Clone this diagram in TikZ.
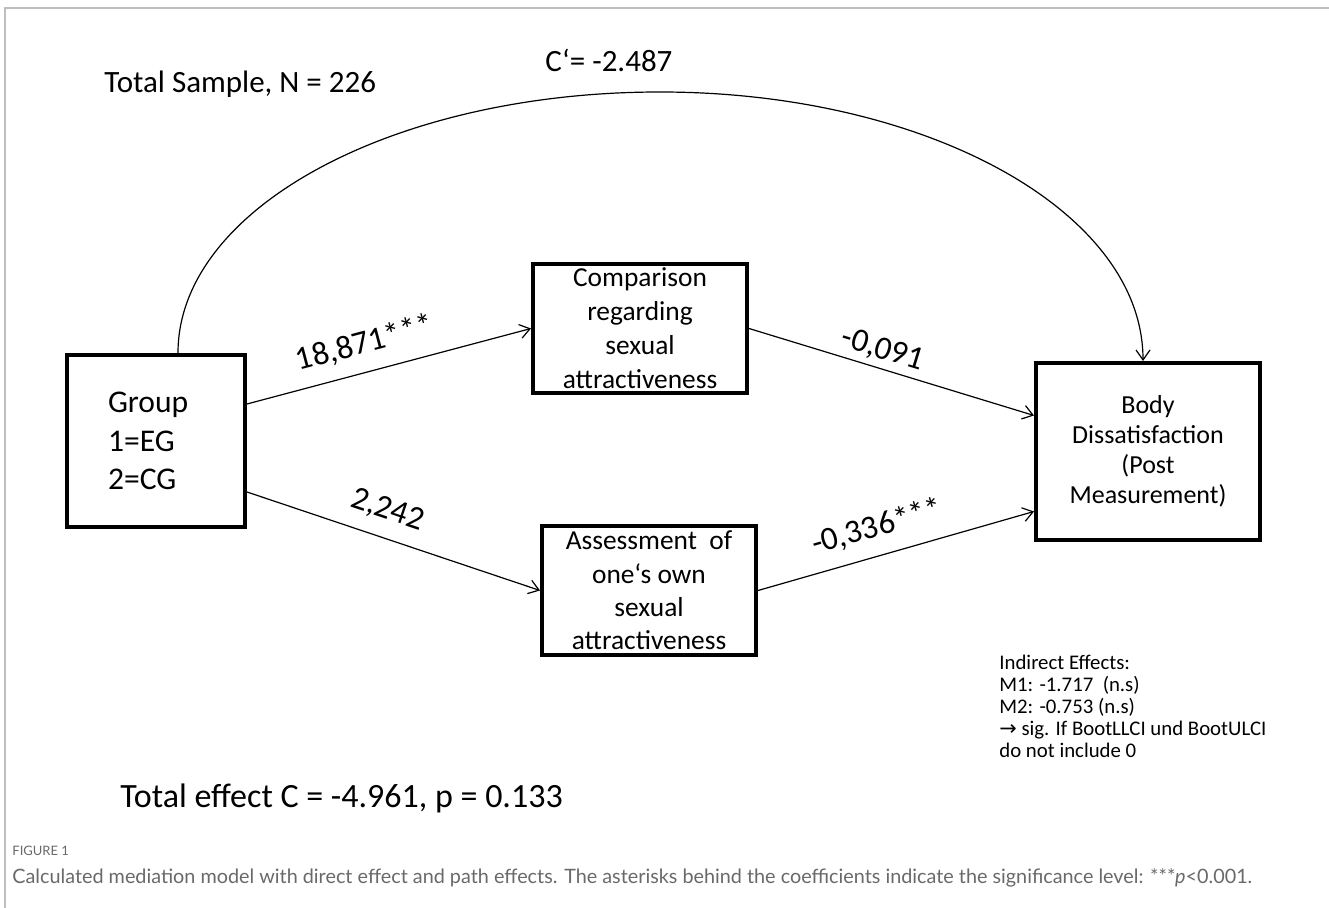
\documentclass[tikz,border=0pt]{standalone}
\usepackage{fontspec}
\setmainfont{Carlito}
\newfontfamily\capfont{Lato}
\newfontfamily\symfont{DejaVu Sans}
\usetikzlibrary{arrows.meta}

\definecolor{framegray}{RGB}{190,190,190}
\definecolor{captiongray}{RGB}{105,105,105}

\begin{document}
\begin{tikzpicture}[x=0.5pt,y=-0.5pt,
    >={Straight Barb[length=5pt,width=7pt]},
    box/.style={draw,line width=2pt,inner sep=0pt,align=center},
    path/.style={->,line width=0.6pt},
    coef/.style={sloped,inner sep=0pt,font=\fontsize{16.5}{19}\selectfont},
    lbl/.style={inner sep=0pt,anchor=base west}]
  \useasboundingbox (0,0) rectangle (1329,908);
  \draw[framegray,line width=1pt] (5,908)--(5,8)--(1329,8);

  % variables
  \node[box,minimum width=89pt,minimum height=86pt,text width=48pt,inner xsep=20.5pt,align=left,
        font=\fontsize{15.8}{19.25}\selectfont] (group) at (156,441) {Group\\1=EG\\2=CG};
  \node[box,minimum width=107pt,minimum height=64.5pt,font=\fontsize{13.7}{17}\selectfont]
        (comp) at (640,328.5) {Comparison\\regarding\\sexual\\attractiveness};
  \node[box,minimum width=107pt,minimum height=64.5pt,font=\fontsize{13.7}{16.7}\selectfont]
        (assess) at (649,590.5) {Assessment\ \ of\\one‘s own\\sexual\\attractiveness};
  \node[box,minimum width=112pt,minimum height=88.5pt,text width=96pt,inner xsep=4pt,
        font=\fontsize{13}{15}\selectfont]
        (body) at (1148,451.5) {Body\\Dissatisfaction\\(Post\\Measurement)\hspace*{8pt}};

  % paths a and b
  \draw[path] ([yshift=18.5pt]group.east) -- (comp.west) node[coef,above=7pt,pos=0.44] {18,871***};
  \draw[path] ([yshift=-25.5pt]group.east) -- (assess.west) node[coef,above=7pt,pos=0.45] {2,242};
  \draw[path] (comp.east) -- ([yshift=18pt]body.west) node[coef,above=2.5pt,pos=0.45] {-0,091};
  \draw[path] (assess.east) -- ([yshift=-30pt]body.west) node[coef,above=7pt,pos=0.46] {-0,336***};

  % direct effect
  \coordinate (top) at (660,92);
  \draw[path] ([xshift=11pt]group.north) .. controls +(0,-145) and +(-266,0) .. (top)
    .. controls +(266,0) and +(0,-150) .. ([xshift=-2.5pt]body.north);

  \node[lbl,font=\fontsize{15.5}{18}\selectfont] (sample) at (104,93) {Total Sample, N = 226};
  \node[lbl,font=\fontsize{15.5}{18}\selectfont] (direct) at (545,72) {C‘= -2.487};
  \node[lbl,font=\fontsize{17}{20}\selectfont] (total) at (120,808) {Total effect C = -4.961, p = 0.133};
  \node[lbl,anchor=north west,align=left,font=\fontsize{10.4}{11}\selectfont] (indirect) at (999,655)
    {Indirect Effects:\\M1: -1.717\ \ (n.s)\\M2: -0.753 (n.s)\\{\symfont →} sig. If BootLLCI und BootULCI\\do not include 0};

  % caption
  \node[lbl,text=captiongray,font=\capfont\fontsize{6.5}{8}\selectfont] (fig) at (12,856) {FIGURE 1};
  \node[lbl,text=captiongray,font=\capfont\fontsize{9.9}{12}\selectfont] (caption) at (12,884)
    {Calculated mediation model with direct effect and path effects. The asterisks behind the coefficients indicate the significance level: ***\emph{p}<0.001.};
\end{tikzpicture}
\end{document}
